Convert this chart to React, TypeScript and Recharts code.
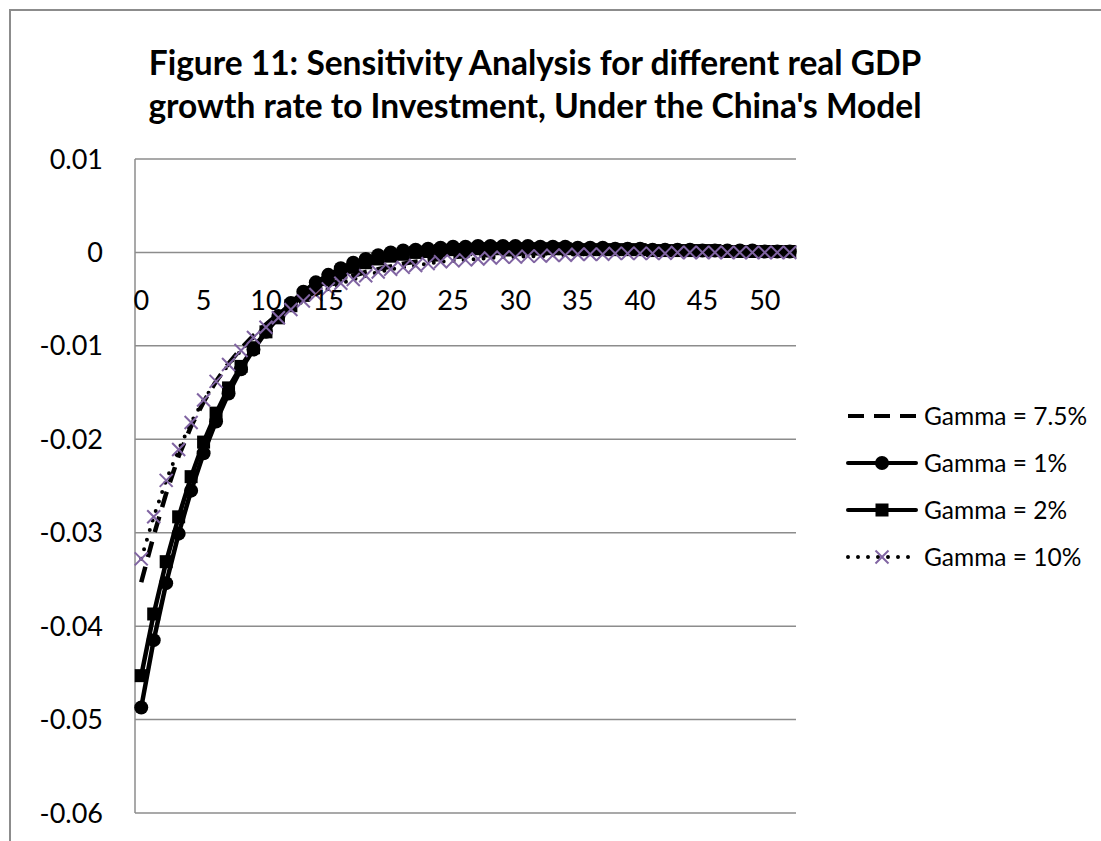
import React from "react";
import { LineChart, Line, XAxis, YAxis, CartesianGrid, ReferenceDot } from "recharts";

const periods = [0,1,2,3,4,5,6,7,8,9,10,11,12,13,14,15,16,17,18,19,20,21,22,23,24,25,26,27,28,29,30,31,32,33,34,35,36,37,38,39,40,41,42,43,44,45,46,47,48,49,50,51,52];

const gamma75 = [-0.0353,-0.0303,-0.0258,-0.0218,-0.0186,-0.0160,-0.0138,-0.0119,-0.0103,-0.0089,-0.0077,-0.0066,-0.0057,-0.0049,-0.0042,-0.0035,-0.0030,-0.0025,-0.0021,-0.0018,-0.0015,-0.0012,-0.0010,-0.0008,-0.0007,-0.0005,-0.0004,-0.0003,-0.0003,-0.0002,-0.0002,-0.0001,-0.0001,-0.0001,0,0,0,0,0,0,0,0,0,0,0,0,0,0,0,0,0,0,0];

const gamma1 = [-0.0487,-0.0415,-0.0354,-0.0301,-0.0255,-0.0215,-0.0181,-0.0151,-0.0125,-0.0104,-0.0085,-0.0068,-0.0054,-0.0042,-0.0032,-0.0024,-0.0017,-0.0011,-0.0007,-0.0003,0.0000,0.0002,0.0003,0.0004,0.0005,0.0006,0.0006,0.0007,0.0007,0.0007,0.0007,0.0007,0.0006,0.0006,0.0006,0.0005,0.0005,0.0005,0.0004,0.0004,0.0004,0.0003,0.0003,0.0003,0.0003,0.0002,0.0002,0.0002,0.0002,0.0002,0.0001,0.0001,0.0001];

const gamma2 = [-0.0453,-0.0387,-0.0331,-0.0283,-0.0240,-0.0203,-0.0172,-0.0145,-0.0122,-0.0102,-0.0085,-0.0070,-0.0057,-0.0046,-0.0037,-0.0029,-0.0022,-0.0016,-0.0011,-0.0007,-0.0004,-0.0002,0.0000,0.0001,0.0002,0.0003,0.0003,0.0004,0.0004,0.0004,0.0004,0.0004,0.0004,0.0004,0.0004,0.0003,0.0003,0.0003,0.0003,0.0003,0.0003,0.0002,0.0002,0.0002,0.0002,0.0002,0.0002,0.0001,0.0001,0.0001,0.0001,0.0001,0.0001];

const gamma10 = [-0.0328,-0.0283,-0.0244,-0.0211,-0.0182,-0.0158,-0.0138,-0.0120,-0.0105,-0.0091,-0.0080,-0.0070,-0.0061,-0.0052,-0.0045,-0.0039,-0.0033,-0.0029,-0.0025,-0.0021,-0.0018,-0.0016,-0.0014,-0.0012,-0.0010,-0.0009,-0.0008,-0.0007,-0.0006,-0.0005,-0.0005,-0.0004,-0.0004,-0.0003,-0.0003,-0.0002,-0.0002,-0.0002,-0.0001,-0.0001,-0.0001,-0.0001,-0.0001,0,0,0,0,0,0,0,0,0,0];

const yTicks = [-0.06,-0.05,-0.04,-0.03,-0.02,-0.01,0,0.01];
const xTickLabels = [0,5,10,15,20,25,30,35,40,45,50];
const seriesNames = ["Gamma = 7.5%","Gamma = 1%","Gamma = 2%","Gamma = 10%"];
const titleLines = ["Figure 11: Sensitivity Analysis for different real GDP","growth rate to Investment, Under the China's Model"];

const data = periods.map((t, i) => ({ t, g75: gamma75[i], g1: gamma1[i], g2: gamma2[i], g10: gamma10[i] }));

const FONT = "Lato, 'Open Sans', sans-serif";
const PURPLE = "#8064A2";
const GRID = "#8c8c8c";

const SquareDot = (props: any) => {
  const { cx, cy, index } = props;
  if (cx == null || cy == null) return <g key={index} />;
  return <rect key={index} x={cx - 6.5} y={cy - 6.5} width={13} height={13} fill="#000" />;
};

const CrossDot = (props: any) => {
  const { cx, cy, index } = props;
  if (cx == null || cy == null) return <g key={index} />;
  return (
    <g key={index}>
      <line x1={cx - 6.5} y1={cy - 6.5} x2={cx + 6.5} y2={cy + 6.5} stroke={PURPLE} strokeWidth={2} />
      <line x1={cx - 6.5} y1={cy + 6.5} x2={cx + 6.5} y2={cy - 6.5} stroke={PURPLE} strokeWidth={2} />
    </g>
  );
};

const XTickText = (props: any) => {
  const { cx, cy, value } = props;
  if (cx == null || cy == null) return <g />;
  return (
    <text x={cx} y={cy + 58} textAnchor="middle" fill="#000" fontSize={27} fontFamily={FONT}>
      {value}
    </text>
  );
};

const LegendSymbol = ({ idx }: { idx: number }) => {
  return (
    <svg width={72} height={20} style={{ display: "block" }}>
      {idx === 0 && <line x1={2} y1={10} x2={70} y2={10} stroke="#000" strokeWidth={4} strokeDasharray="16 10" />}
      {idx === 1 && (
        <g>
          <line x1={2} y1={10} x2={70} y2={10} stroke="#000" strokeWidth={4} strokeLinecap="round" />
          <circle cx={36} cy={10} r={7} fill="#000" />
        </g>
      )}
      {idx === 2 && (
        <g>
          <line x1={2} y1={10} x2={70} y2={10} stroke="#000" strokeWidth={4} strokeLinecap="round" />
          <rect x={29.5} y={3.5} width={13} height={13} fill="#000" />
        </g>
      )}
      {idx === 3 && (
        <g>
          <line x1={2} y1={10} x2={70} y2={10} stroke="#000" strokeWidth={4} strokeDasharray="0 10" strokeLinecap="round" />
          <line x1={29.5} y1={3.5} x2={42.5} y2={16.5} stroke={PURPLE} strokeWidth={2} />
          <line x1={29.5} y1={16.5} x2={42.5} y2={3.5} stroke={PURPLE} strokeWidth={2} />
        </g>
      )}
    </svg>
  );
};

export default function App() {
  return (
    <div style={{ position: "absolute", left: 0, top: 0, width: 1101, height: 841, overflow: "hidden", background: "#fff" }}>
      <div style={{ position: "absolute", left: 9, top: 9, width: 1200, height: 900, borderLeft: `2.5px solid ${GRID}`, borderTop: `2.5px solid ${GRID}` }} />
      <div style={{ position: "absolute", left: 0, top: 41, width: 1070, textAlign: "center", fontFamily: FONT, fontWeight: 700, fontSize: 33.5, lineHeight: "43px", color: "#000" }}>
        {titleLines.map((l) => (
          <div key={l} style={{ whiteSpace: "nowrap" }}>{l}</div>
        ))}
      </div>
      <div style={{ position: "absolute", left: 0, top: 0 }}>
        <LineChart width={1101} height={841} data={data} margin={{ top: 159, right: 305, bottom: 28, left: 35 }}>
          <CartesianGrid vertical={false} stroke={GRID} strokeWidth={1.5} />
          <XAxis dataKey="t" type="number" domain={[-0.5, 52.5]} hide />
          <YAxis
            type="number"
            domain={[-0.06, 0.01]}
            ticks={yTicks}
            width={100}
            axisLine={{ stroke: GRID, strokeWidth: 1.5 }}
            tickLine={false}
            tickSize={0}
            tickMargin={32}
            tickFormatter={(v: number) => (v === 0 ? "0" : String(v))}
            tick={{ fill: "#000", fontSize: 27, fontFamily: FONT }}
            interval={0}
          />
          <Line type="linear" dataKey="g75" stroke="#000" strokeWidth={4.5} strokeDasharray="16 10" dot={false} isAnimationActive={false} />
          <Line type="linear" dataKey="g1" stroke="#000" strokeWidth={4.5} dot={{ r: 7, fill: "#000", stroke: "#000", strokeWidth: 0 }} isAnimationActive={false} />
          <Line type="linear" dataKey="g2" stroke="#000" strokeWidth={4.5} dot={SquareDot} isAnimationActive={false} />
          <Line type="linear" dataKey="g10" stroke="#000" strokeWidth={4} strokeDasharray="0 10" strokeLinecap="round" dot={CrossDot} isAnimationActive={false} />
          {xTickLabels.map((t) => (
            <ReferenceDot
              key={t}
              x={t}
              y={0}
              r={0}
              shape={(p: any) => <XTickText {...p} value={t} />}
            />
          ))}
        </LineChart>
      </div>
      <div style={{ position: "absolute", left: 846, top: 392, fontFamily: FONT, fontSize: 24.5, color: "#000" }}>
        {seriesNames.map((n, i) => (
          <div key={n} style={{ display: "flex", alignItems: "center", height: 47 }}>
            <LegendSymbol idx={i} />
            <span style={{ marginLeft: 6, whiteSpace: "nowrap" }}>{n}</span>
          </div>
        ))}
      </div>
    </div>
  );
}
